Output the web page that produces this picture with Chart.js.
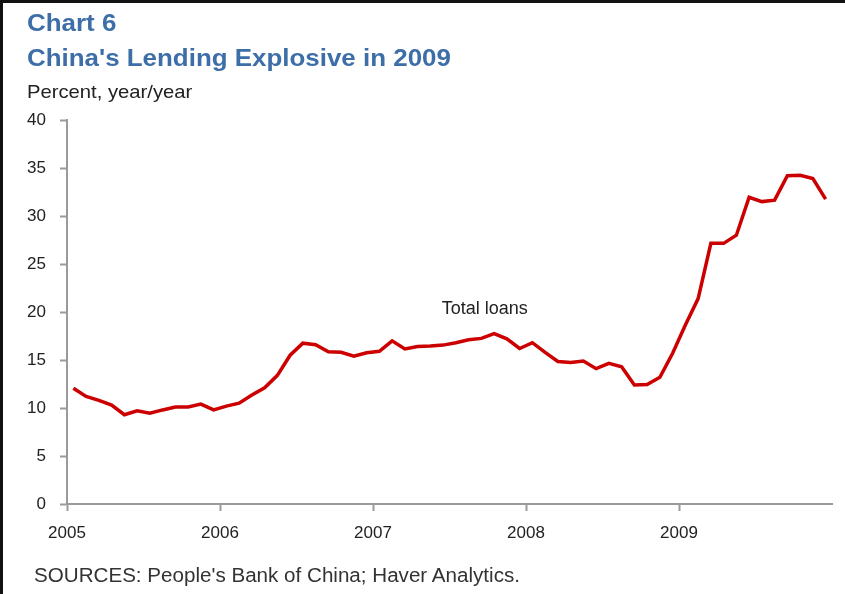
<!DOCTYPE html>
<html>
<head>
<meta charset="utf-8">
<script src="https://cdn.jsdelivr.net/npm/chart.js@4.4.1/dist/chart.umd.min.js"></script>
<style>
  body { margin: 0; background: #fff; }
  #wrap { position: relative; width: 845px; height: 594px; overflow: hidden; font-family: "Liberation Sans", Arial, sans-serif; }
  #frame { position: absolute; left: 0; top: 0; width: 845px; height: 594px; border-left: 3px solid #111; border-top: 3px solid #111; box-sizing: border-box; pointer-events: none; }
  .txt { position: absolute; white-space: nowrap; transform-origin: left top; }
  #t1 { left: 27px; top: 9px; font-size: 24px; font-weight: bold; color: #3d6ea8; transform: scaleX(1.08); }
  #t2 { left: 27px; top: 44px; font-size: 24px; font-weight: bold; color: #3d6ea8; transform: scaleX(1.08); }
  #unit { left: 27px; top: 81px; font-size: 19px; color: #222; transform: scaleX(1.065); }
  #src { left: 34px; top: 564px; font-size: 20px; color: #333; transform: scaleX(1.03); }
  canvas { position: absolute; left: 0; top: 0; }
</style>
</head>
<body>
<div id="wrap">
  <canvas id="lendingChart" width="845" height="594"></canvas>
  <div class="txt" id="t1">Chart 6</div>
  <div class="txt" id="t2">China's Lending Explosive in 2009</div>
  <div class="txt" id="unit">Percent, year/year</div>
  <div class="txt" id="src">SOURCES: People's Bank of China; Haver Analytics.</div>
  <div id="frame"></div>
</div>
<script>
// données : prêts totaux, variation annuelle en %, mensuel 2005-2009
var years = [2005, 2006, 2007, 2008, 2009];
var yTicks = [0, 5, 10, 15, 20, 25, 30, 35, 40];
var seriesName = 'Total loans';

var loans2005 = [12.05, 11.2, 10.8, 10.3, 9.3, 9.7, 9.45, 9.8, 10.1, 10.1, 10.4, 9.8];
var loans2006 = [10.2, 10.5, 11.35, 12.1, 13.4, 15.5, 16.75, 16.6, 15.85, 15.8, 15.4, 15.75];
var loans2007 = [15.9, 17.0, 16.15, 16.4, 16.45, 16.55, 16.8, 17.1, 17.25, 17.75, 17.2, 16.2];
var loans2008 = [16.8, 15.8, 14.85, 14.75, 14.9, 14.1, 14.65, 14.3, 12.4, 12.45, 13.2, 15.7];
var loans2009 = [18.65, 21.4, 27.15, 27.15, 28.0, 31.95, 31.5, 31.65, 34.2, 34.25, 33.9, 31.75];

var loansByYear = [loans2005, loans2006, loans2007, loans2008, loans2009];

// chaque mois placé au milieu du mois sur un axe en années décimales
var points = [];
for (let y = 0; y < years.length; y++) {
    for (let m = 0; m < 12; m++) {
        points.push({ x: years[y] + (m + 0.5) / 12, y: loansByYear[y][m] });
    }
}

var axisGrey = '#9a9a9a';

// étiquette "Total loans" posée dans les coordonnées des axes
var labelPlugin = {
    id: 'seriesLabel',
    afterDatasetsDraw: function (chart) {
        var ctx = chart.ctx;
        var xs = chart.scales.x, ys = chart.scales.y;
        ctx.save();
        ctx.font = '18px "Liberation Sans", Arial, sans-serif';
        ctx.fillStyle = '#222';
        ctx.textAlign = 'center';
        ctx.textBaseline = 'middle';
        ctx.fillText(seriesName, xs.getPixelForValue(2007.73), ys.getPixelForValue(20.3));
        ctx.restore();
    }
};

var ctx = document.getElementById('lendingChart');
var lendingChart = new Chart(ctx, {
    type: 'line',
    data: {
        datasets: [{
            label: seriesName,
            data: points,
            borderColor: '#cc0000',
            borderWidth: 3.5,
            pointRadius: 0,
            tension: 0,
            fill: false
        }]
    },
    options: {
        responsive: false,
        devicePixelRatio: 1,
        animation: false,
        layout: { padding: { left: 0, top: 120, right: 13, bottom: 0 } },
        plugins: {
            legend: { display: false },
            tooltip: { enabled: false }
        },
        scales: {
            x: {
                type: 'linear',
                min: 2005,
                max: 2010,
                afterBuildTicks: function (scale) {
                    scale.ticks = years.concat([2010]).map(function (v) { return { value: v }; });
                },
                afterFit: function (scale) { scale.height = 90; },
                ticks: {
                    color: '#222',
                    font: { size: 17, family: '"Liberation Sans", Arial, sans-serif' },
                    padding: 12,
                    maxRotation: 0,
                    callback: function (v) { return v === 2010 ? '' : String(v); }
                },
                grid: {
                    drawOnChartArea: false,
                    tickLength: 7,
                    tickWidth: 2,
                    color: function (c) { return c.tick && c.tick.value === 2010 ? 'rgba(0,0,0,0)' : axisGrey; }
                },
                border: { color: axisGrey, width: 2 }
            },
            y: {
                min: 0,
                max: 40,
                afterBuildTicks: function (scale) {
                    scale.ticks = yTicks.map(function (v) { return { value: v }; });
                },
                afterFit: function (scale) { scale.width = 67; },
                ticks: {
                    color: '#222',
                    font: { size: 17, family: '"Liberation Sans", Arial, sans-serif' },
                    padding: 14
                },
                grid: {
                    drawOnChartArea: false,
                    tickLength: 7,
                    tickWidth: 2,
                    color: axisGrey
                },
                border: { color: axisGrey, width: 2 }
            }
        }
    },
    plugins: [labelPlugin]
});
</script>
</body>
</html>
